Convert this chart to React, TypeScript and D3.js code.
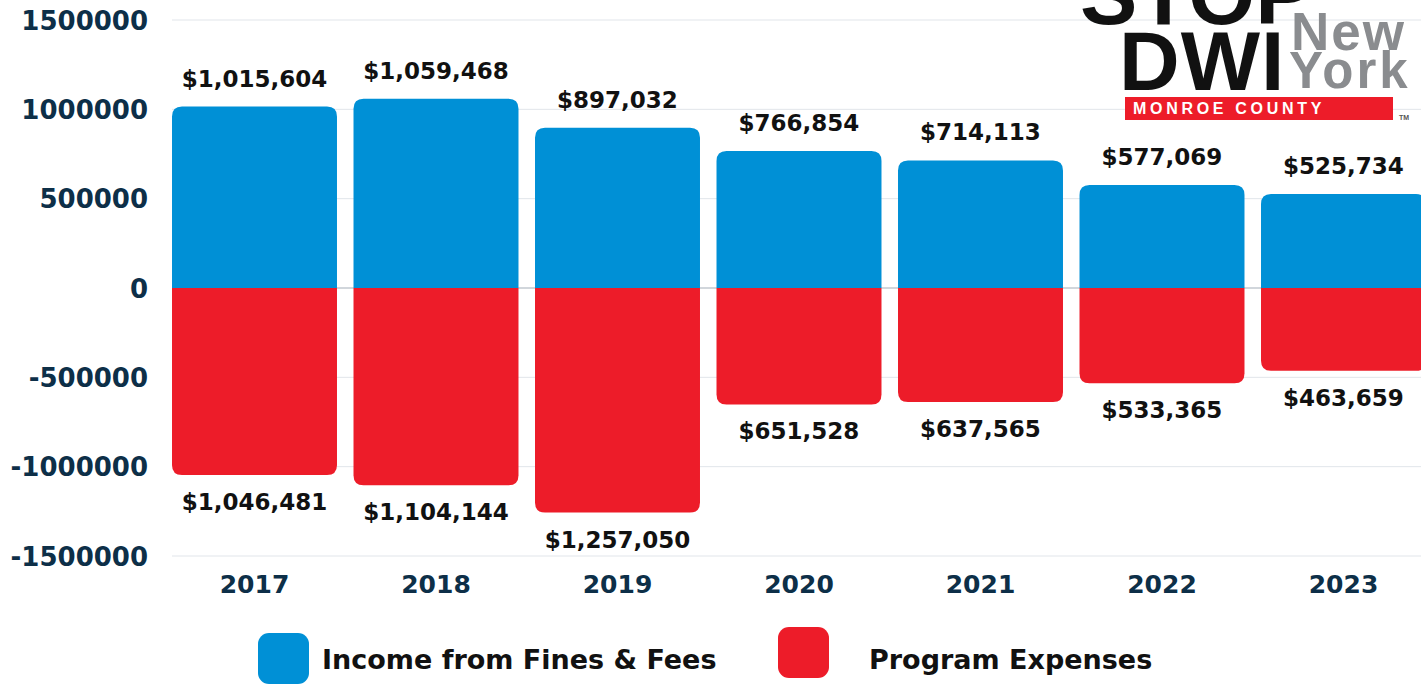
import React from "react";
import * as d3 from "d3";

// values
const years = ["2017", "2018", "2019", "2020", "2021", "2022", "2023"];
const income = [1015604, 1059468, 897032, 766854, 714113, 577069, 525734];
const expenses = [1046481, 1104144, 1257050, 651528, 637565, 533365, 463659];
const legendLabels = ["Income from Fines & Fees", "Program Expenses"];

const W = 1421;
const H = 685;
const BLUE = "#0090d6";
const RED = "#ed1c29";
const NAVY = "#0d2f48";
const FONT = "'DejaVu Sans', sans-serif";
const LOGO_FONT = "'Liberation Sans', Arial, sans-serif";

const fmt = (v: number) => "$" + d3.format(",")(v);

// rect with only the two corners away from the baseline rounded
function roundedBar(x: number, w: number, y0: number, y1: number, r: number) {
  const up = y1 < y0;
  const h = Math.abs(y1 - y0);
  const rr = Math.min(r, h, w / 2);
  const s = up ? -1 : 1;
  const p = d3.path();
  p.moveTo(x, y0);
  p.lineTo(x, y1 - s * rr);
  p.quadraticCurveTo(x, y1, x + rr, y1);
  p.lineTo(x + w - rr, y1);
  p.quadraticCurveTo(x + w, y1, x + w, y1 - s * rr);
  p.lineTo(x + w, y0);
  p.closePath();
  return p.toString();
}

export default function App() {
  const x = d3
    .scaleBand<string>()
    .domain(years)
    .range([163.75, 1434.25])
    .paddingInner(0.091)
    .paddingOuter(0.0455);
  const y = d3.scaleLinear().domain([-1500000, 1500000]).range([556, 20]);
  const ticks = y.ticks(6);
  const bw = x.bandwidth();

  return (
    <svg
      width={W}
      height={H}
      style={{ position: "absolute", left: 0, top: 0, background: "#fff" }}
    >
      {/* grid */}
      <g>
        {ticks.map((t) => (
          <line
            key={t}
            x1={172}
            x2={W}
            y1={y(t)}
            y2={y(t)}
            stroke={t === 0 ? "#a3adb8" : "#e1e5ea"}
            strokeWidth={1}
          />
        ))}
      </g>
      {/* y tick labels */}
      <g fontFamily={FONT} fontWeight="bold" fontSize={26} fill={NAVY}>
        {ticks.map((t) => (
          <text key={t} x={148} y={y(t) + 9.5} textAnchor="end">
            {String(t)}
          </text>
        ))}
      </g>

      {/* bars */}
      <g>
        {years.map((yr, i) => {
          const bx = x(yr)!;
          return (
            <g key={yr}>
              <path d={roundedBar(bx, bw, y(0), y(income[i]), 10)} fill={BLUE} />
              <path d={roundedBar(bx, bw, y(0), y(-expenses[i]), 10)} fill={RED} />
            </g>
          );
        })}
      </g>

      {/* value labels */}
      <g fontFamily={FONT} fontWeight="bold" fontSize={23} fill="#111" textAnchor="middle">
        {years.map((yr, i) => {
          const cx = x(yr)! + bw / 2;
          return (
            <g key={yr}>
              <text x={cx} y={y(income[i]) - 20}>{fmt(income[i])}</text>
              <text x={cx} y={y(-expenses[i]) + 35}>{fmt(expenses[i])}</text>
            </g>
          );
        })}
      </g>

      {/* x labels */}
      <g fontFamily={FONT} fontWeight="bold" fontSize={25} fill={NAVY} textAnchor="middle">
        {years.map((yr) => (
          <text key={yr} x={x(yr)! + bw / 2} y={593}>
            {yr}
          </text>
        ))}
      </g>

      {/* legend */}
      <g fontFamily={FONT} fontWeight="bold" fontSize={27} fill="#111">
        <rect x={258} y={633} width={51} height={51} rx={11} fill={BLUE} />
        <text x={322} y={669}>{legendLabels[0]}</text>
        <rect x={778} y={627} width={51} height={51} rx={11} fill={RED} />
        <text x={869} y={669}>{legendLabels[1]}</text>
      </g>

      {/* STOP DWI logo */}
      <g fontFamily={LOGO_FONT} fontWeight="bold">
        <text x={1080} y={24} fontSize={86} fill="#111">STOP</text>
        <text x={1119} y={90} fontSize={84} fill="#111" letterSpacing={1}>DWI</text>
        <text x={1291} y={50} fontSize={53} fill="#8a8c8f" letterSpacing={2}>New</text>
        <text x={1289} y={88} fontSize={51} fill="#8a8c8f" letterSpacing={3}>York</text>
        <rect x={1125} y={97} width={268} height={23} fill={RED} />
        <text x={1133} y={114} fontSize={16} fill="#fff" letterSpacing={3.7}>
          MONROE COUNTY
        </text>
        <text x={1399} y={120} fontSize={7} fill="#555">TM</text>
      </g>
    </svg>
  );
}
